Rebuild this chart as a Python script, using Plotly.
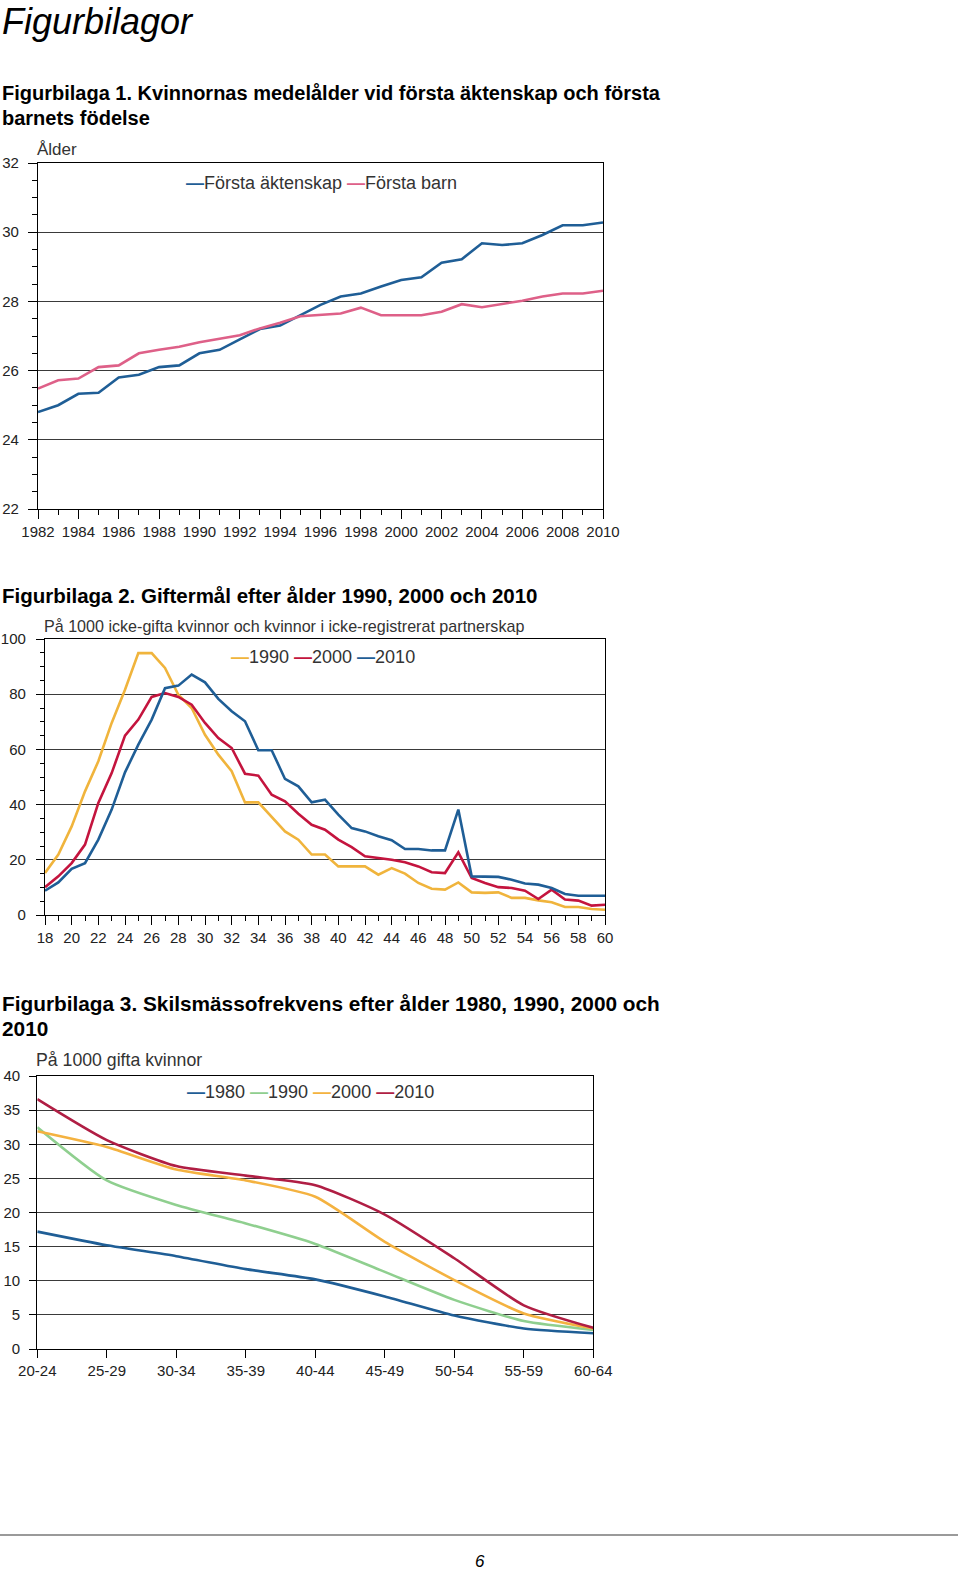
import plotly.graph_objects as go

W, H = 960, 1572

# ---------------- data ----------------
years = list(range(1982, 2011))
first_marriage = [24.8, 25.0, 25.33, 25.36, 25.8, 25.88, 26.1, 26.15, 26.5, 26.6,
                  26.9, 27.2, 27.3, 27.6, 27.9, 28.14, 28.23, 28.43, 28.62, 28.7,
                  29.12, 29.22, 29.68, 29.63, 29.68, 29.92, 30.2, 30.2, 30.28]
first_child = [25.48, 25.72, 25.77, 26.1, 26.15, 26.5, 26.6, 26.69, 26.82, 26.92,
               27.02, 27.22, 27.38, 27.57, 27.6, 27.65, 27.82, 27.6, 27.6, 27.6,
               27.7, 27.92, 27.83, 27.92, 28.02, 28.14, 28.23, 28.23, 28.31]

ages = list(range(18, 61))
marr_1990 = [15.2, 21.9, 32.1, 44.8, 55.7, 69.6, 81.6, 94.9, 94.9, 89.5, 79.8, 75.0,
             65.3, 58.1, 52.1, 40.8, 40.8, 35.7, 30.3, 27.3, 21.9,
             21.9, 17.6, 17.6, 17.6, 14.6, 17.0, 15.0, 11.6, 9.5, 9.2, 11.8, 8.2,
             8.0, 8.2, 6.2, 6.2, 5.3, 4.6, 2.9, 2.9, 2.2, 1.9]
marr_2000 = [10.1, 14.0, 18.8, 25.5, 40.6, 51.4, 65.0, 70.8, 79.0, 80.4, 79.0, 76.2,
             69.6, 64.1, 60.5, 51.2, 50.5, 43.6, 41.2, 36.7, 32.7,
             30.9, 27.3, 24.6, 21.3, 20.7, 20.0, 19.1, 17.6, 15.5, 15.2, 22.7, 13.4,
             11.6, 10.1, 9.8, 8.8, 5.8, 9.2, 5.6, 5.2, 3.4, 3.7]
marr_2010 = [8.8, 11.8, 16.7, 18.8, 27.3, 38.2, 51.7, 61.7, 70.8, 82.2, 83.1, 87.1,
             84.3, 78.3, 73.8, 70.2, 59.7, 59.7, 49.3, 46.6, 40.8,
             41.8, 36.4, 31.5, 30.3, 28.5, 27.1, 23.9, 23.9, 23.4, 23.4, 38.2, 14.0,
             14.0, 13.8, 12.8, 11.4, 11.0, 9.8, 7.6, 7.0, 7.0, 7.0]

age_groups = ["20-24", "25-29", "30-34", "35-39", "40-44", "45-49", "50-54", "55-59", "60-64"]
div_1980 = [17.2, 15.2, 13.6, 11.7, 10.2, 7.7, 4.9, 3.0, 2.3]
div_1990 = [32.5, 24.7, 21.1, 18.4, 15.4, 11.3, 7.2, 4.1, 2.8]
div_2000 = [31.9, 29.6, 26.3, 24.7, 22.3, 15.7, 10.1, 5.2, 3.0]
div_2010 = [36.6, 30.6, 26.8, 25.4, 24.0, 19.7, 13.3, 6.4, 3.1]

# ---------------- styles ----------------
BLUE = "#1f5e96"
PINK = "#de6088"
GOLD = "#f0b43c"
CRIMSON = "#c4143e"
GREEN = "#8fcf8f"
ORANGE = "#f4b240"
WINE = "#b01e44"
FONT = "Liberation Sans, Arial, sans-serif"
TXT = "#222222"
GRID = "#3a3a3a"


def px_x(p):
    return p / W


def px_y(p):
    return 1 - p / H


fig = go.Figure()

# chart 1
fig.add_trace(go.Scatter(x=years, y=first_marriage, mode="lines", name="Första äktenskap",
                         line=dict(color=BLUE, width=2.6), xaxis="x", yaxis="y"))
fig.add_trace(go.Scatter(x=years, y=first_child, mode="lines", name="Första barn",
                         line=dict(color=PINK, width=2.6), xaxis="x", yaxis="y"))
# chart 2
for ys, c, n in [(marr_1990, GOLD, "1990"), (marr_2000, CRIMSON, "2000"), (marr_2010, BLUE, "2010")]:
    fig.add_trace(go.Scatter(x=ages, y=ys, mode="lines", name=n,
                             line=dict(color=c, width=2.6), xaxis="x2", yaxis="y2"))
# chart 3
idx = list(range(len(age_groups)))
for ys, c, n in [(div_1980, BLUE, "1980"), (div_1990, GREEN, "1990"),
                 (div_2000, ORANGE, "2000"), (div_2010, WINE, "2010")]:
    fig.add_trace(go.Scatter(x=idx, y=ys, mode="lines", name=n,
                             line=dict(color=c, width=2.6, shape="spline", smoothing=0.6),
                             xaxis="x3", yaxis="y3"))

tickfont = dict(family=FONT, size=15, color=TXT)
common = dict(showline=True, linecolor="black", linewidth=1.3, mirror=True,
              zeroline=False, tickfont=tickfont, tickcolor="black", ticks="outside",
              fixedrange=True, automargin=False)

fig.update_layout(
    template="none",
    width=W, height=H, margin=dict(l=0, r=0, t=0, b=0, autoexpand=False),
    paper_bgcolor="white", plot_bgcolor="white", showlegend=False,
    xaxis=dict(domain=[px_x(38), px_x(603)], anchor="y", range=[1982, 2010],
               tick0=1982, dtick=2, ticklen=9, showgrid=False,
               minor=dict(dtick=1, ticklen=5, ticks="outside", tickcolor="black", showgrid=False),
               **common),
    yaxis=dict(domain=[px_y(509), px_y(163)], anchor="x", range=[22, 32],
               tick0=22, dtick=2, ticklen=9, showgrid=True, gridcolor=GRID, gridwidth=1.3,
               ticklabelstandoff=6,
               minor=dict(dtick=0.5, ticklen=5, ticks="outside", tickcolor="black", showgrid=False),
               **common),
    xaxis2=dict(domain=[px_x(45), px_x(605)], anchor="y2", range=[18, 60],
                tick0=18, dtick=2, ticklen=9, showgrid=False,
                minor=dict(dtick=1, ticklen=5, ticks="outside", tickcolor="black", showgrid=False),
                **common),
    yaxis2=dict(domain=[px_y(915), px_y(639)], anchor="x2", range=[0, 100],
                tick0=0, dtick=20, ticklen=8, showgrid=True, gridcolor=GRID, gridwidth=1.3,
                ticklabelstandoff=7,
                minor=dict(dtick=5, ticklen=4, ticks="outside", tickcolor="black", showgrid=False),
                **common),
    xaxis3=dict(domain=[px_x(37.3), px_x(593.3)], anchor="y3", range=[0, len(age_groups) - 1],
                tickmode="array", tickvals=idx, ticktext=age_groups, ticklen=8, showgrid=False,
                **common),
    yaxis3=dict(domain=[px_y(1349), px_y(1076)], anchor="x3", range=[0, 40],
                tick0=0, dtick=5, ticklen=7, showgrid=True, gridcolor=GRID, gridwidth=1.3,
                ticklabelstandoff=6,
                **common),
)

ann = []


def text(x, y, s, size, bold=False, italic=False, color=TXT, xanchor="left", yanchor="middle"):
    if bold:
        s = "<b>" + s + "</b>"
    if italic:
        s = "<i>" + s + "</i>"
    ann.append(dict(x=px_x(x), y=px_y(y), xref="paper", yref="paper", text=s,
                    showarrow=False, xanchor=xanchor, yanchor=yanchor, borderpad=0,
                    font=dict(family=FONT, size=size, color=color)))


def legend(x, y, items, size=18):
    parts = []
    for lab, col in items:
        parts.append("<span style='color:%s'><b>—</b></span>%s" % (col, lab))
    text(x, y, " ".join(parts), size, color="#333333")


text(1, 0, "Figurbilagor", 36, italic=True, color="black", yanchor="top")
text(1, 93, "Figurbilaga 1. Kvinnornas medelålder vid första äktenskap och första", 20, bold=True, color="black")
text(1, 118, "barnets födelse", 20, bold=True, color="black")
text(36, 149, "Ålder", 17, color="#333333")
legend(185, 183, [("Första äktenskap", BLUE), ("Första barn", PINK)])

text(1, 595, "Figurbilaga 2. Giftermål efter ålder 1990, 2000 och 2010", 20.5, bold=True, color="black")
text(43, 626, "På 1000 icke-gifta kvinnor och kvinnor i icke-registrerat partnerskap", 16.1, color="#333333")
legend(230, 657, [("1990", GOLD), ("2000", CRIMSON), ("2010", BLUE)])

text(1, 1003, "Figurbilaga 3. Skilsmässofrekvens efter ålder 1980, 1990, 2000 och", 20.8, bold=True, color="black")
text(1, 1028, "2010", 20.8, bold=True, color="black")
text(35, 1060, "På 1000 gifta kvinnor", 17.7, color="#333333")
legend(186, 1092, [("1980", BLUE), ("1990", GREEN), ("2000", ORANGE), ("2010", WINE)])

text(480, 1561, "6", 17, italic=True, color="black", xanchor="center")

fig.update_layout(annotations=ann,
                  shapes=[dict(type="line", xref="paper", yref="paper",
                               x0=0, x1=px_x(958), y0=px_y(1535), y1=px_y(1535),
                               line=dict(color="#9a9a9a", width=2))])

fig.write_html("out.html", config={"displayModeBar": False},
               post_script="document.body.style.margin='0px';document.body.style.padding='0px';")
